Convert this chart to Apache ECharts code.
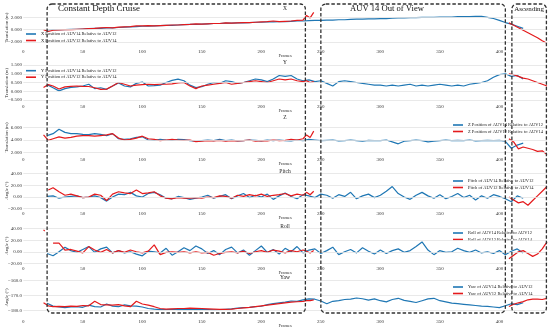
<!DOCTYPE html>
<html><head><meta charset="utf-8">
<script src="https://cdn.jsdelivr.net/npm/echarts@6/dist/echarts.min.js"></script>
<style>html,body{margin:0;padding:0;background:#fff}#c{width:550px;height:332px}</style>
</head><body><div id="c"></div>
<script>
// ---- sampling of frames ----
function rng(a, b, s){ const o=[]; for(let f=a; f<=b; f+=s) o.push(f); return o; }
const blueFrames = rng(20, 420, 5);                       // 81 frames
const redFramesA = [17,18,21].concat(rng(25,235,5), [238,241,244]); // 49 frames
const redFramesB = rng(408, 440, 4);                      // 9 frames

// ---- X ----
const blueX = [
 -0.1,0.0,-0.05,0.0,0.05,0.05,0.1,0.15,0.2,0.2,
 0.3,0.3,0.35,0.4,0.45,0.5,0.55,0.55,0.6,0.65,
 0.7,0.7,0.75,0.8,0.85,0.85,0.9,0.95,1.0,1.0,
 1.05,1.05,1.1,1.1,1.15,1.2,1.2,1.25,1.25,1.3,
 1.3,1.35,1.4,1.4,1.45,1.5,1.5,1.55,1.55,1.6,
 1.6,1.65,1.7,1.7,1.75,1.75,1.8,1.8,1.85,1.9,
 1.9,1.95,1.95,2.0,2.0,2.0,2.05,2.05,2.05,2.1,
 2.1,2.1,2.15,2.15,2.0,1.8,1.5,1.15,0.9,0.55,
 0.2];
const redXA = [0.0,-0.1,-0.3,
 -0.1,-0.05,0.0,0.0,0.05,0.1,0.15,0.2,0.3,0.35,
 0.3,0.4,0.45,0.5,0.6,0.6,0.65,0.6,0.65,0.7,
 0.75,0.75,0.8,0.85,0.95,0.9,0.95,1.0,1.0,1.1,
 1.05,1.1,1.15,1.15,1.2,1.25,1.3,1.4,1.3,1.35,
 1.4,1.5,1.55,
 2.3,1.9,2.8];
const redXB = [1.1,0.7,0.3,-0.1,-0.5,-0.9,-1.3,-1.8,-2.2];

// ---- Y ----
const blueY = [
 0.38,0.2,0.02,0.15,0.22,0.25,0.3,0.4,0.15,0.2,
 0.11,0.3,0.48,0.3,0.25,0.45,0.53,0.3,0.32,0.35,
 0.5,0.62,0.69,0.6,0.35,0.21,0.26,0.4,0.5,0.45,
 0.6,0.55,0.45,0.5,0.6,0.7,0.65,0.55,0.7,0.9,
 0.85,0.9,0.7,0.6,0.65,0.55,0.6,0.45,0.3,0.55,
 0.6,0.55,0.5,0.45,0.4,0.35,0.35,0.3,0.35,0.3,
 0.35,0.4,0.3,0.35,0.3,0.35,0.4,0.35,0.3,0.35,
 0.3,0.4,0.45,0.5,0.6,0.8,0.95,1.0,0.85,0.9,
 0.7];
const redYA = [0.21,0.3,0.38,
 0.3,0.13,0.25,0.28,0.3,0.28,0.27,0.2,0.11,0.12,
 0.3,0.5,0.4,0.3,0.35,0.38,0.4,0.38,0.4,0.4,
 0.42,0.48,0.5,0.3,0.15,0.3,0.35,0.4,0.45,0.5,
 0.4,0.45,0.5,0.55,0.6,0.55,0.5,0.6,0.7,0.65,
 0.7,0.6,0.55,
 0.6,0.5,0.55];
const redYB = [1.0,0.95,0.85,0.75,0.7,0.6,0.5,0.4,0.3];

// ---- Z ----
const blueZ = [
 4.7,5.0,5.7,5.2,5.0,5.0,4.9,4.85,5.0,4.9,
 4.7,5.0,4.2,4.1,4.2,4.4,4.5,4.0,3.95,4.1,
 4.0,3.95,4.1,4.05,3.9,3.8,3.9,4.0,3.9,4.1,
 3.9,4.0,3.85,3.9,4.0,3.95,3.85,4.0,3.9,4.0,
 3.9,3.85,4.0,3.9,4.1,4.0,3.9,3.95,4.0,3.85,
 3.9,4.0,3.9,3.8,3.95,3.9,3.9,4.0,3.7,3.4,
 3.8,3.9,4.0,3.9,3.7,3.8,3.9,4.0,3.9,3.95,
 3.9,4.0,3.85,3.9,3.95,3.9,3.95,3.8,2.7,3.2,
 3.5];
const redZA = [4.8,4.6,3.95,
 4.2,4.5,4.3,4.4,4.6,4.7,4.7,4.6,4.7,4.8,
 5.0,4.3,4.0,4.1,4.3,4.6,4.2,4.1,3.9,4.0,
 4.1,4.0,3.95,4.0,3.75,3.8,3.9,3.85,3.95,3.8,
 3.9,3.85,3.9,4.0,3.8,3.9,3.85,4.0,3.9,3.95,
 4.1,4.0,4.2,
 4.8,4.4,5.4];
const redZB = [4.2,3.7,2.6,2.9,2.7,2.5,2.2,2.3,1.7];

// ---- Pitch ----
const bluePitch = [
 1,2,-2,0,1,2,-1,0,2,-1,
 -7,0,5,4,8,2,0,6,8,4,
 -2,-3,1,-1,-4,-2,0,3,-2,1,
 4,-3,2,6,-1,3,0,5,-4,2,
 7,1,-3,4,2,-1,5,3,-2,4,
 1,8,-3,2,5,-1,3,10,18,6,
 0,-4,3,8,2,-2,4,-3,1,6,
 -1,3,-5,2,-2,4,1,-3,-8,2,
 -2];
const redPitchA = [null,null,12,
 16,9,3,5,2,-1,0,5,3,-6,
 5,9,7,6,12,6,7,9,2,-2,
 -3,-1,-2,-2,-1,-2,0,-1,2,1,
 -2,3,1,4,2,5,1,3,4,6,
 2,5,3,
 8,4,10];
const redPitchB = [0,-5,-10,-8,-14,-6,2,10,18];

// ---- Roll ----
const blueRoll = [
 -3,-7,0,8,2,-1,4,9,-1,5,
 8,-2,2,-2,0,-4,-7,1,0,-2,
 6,-6,0,7,2,10,5,-3,2,-5,
 4,8,-2,3,-6,2,10,-1,4,-4,
 6,0,9,-2,3,5,-3,2,8,-5,
 0,4,-2,7,1,-4,3,-3,2,5,
 -1,2,9,17,3,-5,2,-1,0,6,
 2,-1,3,-2,0,-3,2,-5,1,5,
 -2];
const redRollA = [38,36,null,
 15,15,3,4,1,-2,9,3,-1,4,
 -2,2,-1,3,0,-2,1,12,-5,-1,
 0,-1,0,-2,0,-2,-1,-6,-3,-1,
 0,-2,1,-3,0,2,-1,3,1,-2,
 2,0,3,
 1,-2,2];
const redRollB = [-12,-6,0,2,-3,-8,-4,5,17];

// ---- Yaw ----
const blueYaw = [
 -175.3,-177.2,-177.8,-178.2,-177.8,-177.6,-178.0,-176.6,-177.5,-177.8,
 -175.8,-177.2,-177.6,-176.4,-177.0,-177.2,-177.8,-178.8,-179.2,-179.5,
 -179.6,-179.3,-179.5,-179.6,-179.5,-179.4,-179.5,-179.6,-179.7,-179.6,
 -179.3,-179.0,-178.6,-178.2,-178.0,-177.6,-177.3,-176.2,-175.6,-175.0,
 -174.5,-173.8,-174.0,-173.0,-172.4,-172.6,-173.8,-175.6,-174.0,-173.6,
 -172.8,-172.6,-171.8,-172.3,-173.2,-172.4,-173.6,-174.4,-172.8,-172.0,
 -173.4,-174.0,-174.8,-173.6,-172.4,-172.0,-173.6,-174.4,-175.2,-175.6,
 -176.0,-176.4,-176.8,-177.2,-177.4,-177.8,-178.2,-177.0,-175.6,-176.2,
 -175.0];
const redYawA = [-175.0,-175.5,-177.0,
 -177.6,-177.4,-177.6,-177.2,-177.4,-176.8,-177.0,-174.0,-176.2,-176.4,
 -176.6,-176.2,-177.0,-177.6,-174.0,-175.8,-176.6,-177.6,-178.8,-179.2,
 -179.0,-178.8,-178.8,-178.6,-178.7,-178.8,-179.0,-179.2,-179.4,-179.4,
 -179.2,-178.8,-178.4,-178.0,-177.5,-177.0,-176.6,-176.0,-175.5,-175.0,
 -174.6,-174.3,-174.0,
 -173.6,-173.5,-173.0];
const redYawB = [-177.5,-176.0,-175.0,-174.2,-173.0,-172.6,-172.6,-172.8,-172.0];

const BLUE = '#1f77b4', RED = '#e41a1c', FONT = 'Liberation Serif';
const GL = 23.3, GR = 3;

const panels = [
 {title:'X', titleY:8.3, yName:'Translation (m)', blue:blueX, redA:redXA, redB:redXB,
  cal:[2,17.3,-2,42], top:8, bottom:47, ticks:[-2,0,2], dec:3,
  bn:'X Position of AUV14 Relative to AUV12', rn:'X Position of AUV12 Relative to AUV14', lx:24, ly:30.5},
 {title:'Y', titleY:62.5, yName:'Translation (m)', blue:blueY, redA:redYA, redB:redYB,
  cal:[1.5,65,-0.5,100], top:63, bottom:102.5, ticks:[-0.5,0,0.5,1,1.5], dec:3,
  bn:'Y Position of AUV14 Relative to AUV12', rn:'Y Position of AUV12 Relative to AUV14', lx:24, ly:67.2},
 {title:'Z', titleY:117.5, yName:'Translation (m)', blue:blueZ, redA:redZA, redB:redZB,
  cal:[6,127.3,2,152.7], top:119, bottom:155.5, ticks:[2,4,6], dec:3,
  bn:'Z Position of AUV14 Relative to AUV12', rn:'Z Position of AUV12 Relative to AUV14', lx:451, ly:121.5},
 {title:'Pitch', titleY:172, yName:'Angle (°)', blue:bluePitch, redA:redPitchA, redB:redPitchB,
  cal:[40,173.7,-20,208.7], top:172, bottom:209.5, ticks:[-20,0,20,40], dec:2,
  bn:'Pitch of AUV14 Relative to AUV12', rn:'Pitch of AUV12 Relative to AUV14', lx:451, ly:177.5},
 {title:'Roll', titleY:226.5, yName:'Angle (°)', blue:blueRoll, redA:redRollA, redB:redRollB,
  cal:[40,228.7,-20,263.3], top:227, bottom:264.5, ticks:[-20,0,20,40], dec:2,
  bn:'Roll of AUV14 Relative to AUV12', rn:'Roll of AUV12 Relative to AUV14', lx:451, ly:229.5},
 {title:'Yaw', titleY:277.7, yName:'Angle (°)', blue:blueYaw, redA:redYawA, redB:redYawB,
  cal:[-160,280.3,-180,310.3], top:278, bottom:317, ticks:[-180,-170,-160], dec:1,
  bn:'Yaw of AUV14 Relative to AUV12', rn:'Yaw of AUV12 Relative to AUV14', lx:451, ly:283.5}
];

function pairs(fr, vals){ return fr.map((f,i)=>[f, vals[i]==null ? '-' : vals[i]]); }
function fmt(v, d){ return v.toFixed(d).replace('-', '\u2212'); }

const grids=[], xAxes=[], yAxes=[], series=[], legends=[];
panels.forEach((p,i)=>{
  const [v1,p1,v2,p2] = p.cal;
  const k = (v1 - v2) / (p2 - p1);
  const ymax = v1 + (p1 - p.top) * k;
  const ymin = v2 - (p.bottom - p2) * k;
  grids.push({left:GL, right:GR, top:p.top, height:p.bottom - p.top,
    containLabel:false, outerBoundsMode:'none'});
  xAxes.push({gridIndex:i, type:'value', min:0, max:440, interval:50,
    axisLine:{show:false}, axisTick:{show:false}, splitLine:{show:false},
    axisLabel:{fontSize:5, fontFamily:FONT, color:'#333', margin:2, showMaxLabel:false},
    name:'Frames', nameLocation:'middle', nameGap:6, nameMoveOverlap:false,
    nameTextStyle:{fontSize:4.6, fontFamily:FONT, color:'#333'}});
  yAxes.push({gridIndex:i, type:'value', min:ymin, max:ymax,
    axisLine:{show:false}, axisTick:{show:false, customValues:p.ticks}, splitLine:{show:false},
    axisLabel:{customValues:p.ticks, fontSize:5, fontFamily:FONT, color:'#333', margin:1.3,
      formatter:(v)=>fmt(v,p.dec)},
    name:p.yName, nameLocation:'middle', nameGap:14, nameMoveOverlap:false,
    nameTextStyle:{fontSize:4.8, fontFamily:FONT, color:'#333'}});
  series.push({type:'line', xAxisIndex:i, yAxisIndex:i, data:[], silent:true, z:1,
    markLine:{silent:true, symbol:'none', animation:false, label:{show:false},
      lineStyle:{color:'#e3e3e3', width:0.8, type:'solid'},
      data:p.ticks.map(t=>({yAxis:t}))}});
  series.push({type:'line', name:p.bn, xAxisIndex:i, yAxisIndex:i,
    data:pairs(blueFrames, p.blue), showSymbol:false, z:3,
    lineStyle:{color:BLUE, width:1.2}, itemStyle:{color:BLUE}});
  series.push({type:'line', name:p.rn, xAxisIndex:i, yAxisIndex:i,
    data:pairs(redFramesA, p.redA).concat([[300,'-']], pairs(redFramesB, p.redB)),
    showSymbol:false, z:4, connectNulls:false,
    lineStyle:{color:RED, width:1.2}, itemStyle:{color:RED}});
  legends.push({data:[p.bn, p.rn], orient:'vertical', left:p.lx, top:p.ly,
    icon:'rect', itemWidth:10, itemHeight:1.6, itemGap:1.5, padding:[1,2,1,2],
    backgroundColor:'rgba(255,255,255,0.85)', selectedMode:false,
    textStyle:{fontSize:4.5, lineHeight:5, fontFamily:FONT, color:'#222'}});
});

const chart = echarts.init(document.getElementById('c'), null, {renderer:'canvas', width:550, height:332});
chart.setOption({animation:false, backgroundColor:'#fff',
  grid:grids, xAxis:xAxes, yAxis:yAxes, series:series, legend:legends});

// annotations: subplot titles and dashed phase boxes
const px = f => chart.convertToPixel({xAxisIndex:0}, f);
const gfx = [];
panels.forEach(p=>{
  gfx.push({type:'text', x:285, y:p.titleY, silent:true,
    style:{text:p.title, font:'5.5px "Liberation Serif"', fill:'#222', textAlign:'center', textVerticalAlign:'middle'}});
});
const boxes = [
  {f0:20, f1:237, label:'Constant Depth Cruise', lx:58, align:'left', fs:9},
  {f0:250, f1:405, label:'AUV 14 Out of View', lx:350, align:'left', fs:8.6},
  {f0:410.5, f1:439.5, label:'Ascending', lx:null, align:'center', fs:7}
];
boxes.forEach(b=>{
  const x0 = px(b.f0), x1 = px(b.f1);
  gfx.push({type:'rect', silent:true, z:100,
    shape:{x:x0, y:4, width:x1 - x0, height:309, r:5},
    style:{fill:'none', stroke:'#333', lineWidth:1.3, lineDash:[3.5,2]}});
  gfx.push({type:'text', silent:true, z:101,
    x: b.lx == null ? (x0 + x1)/2 : b.lx, y:9,
    style:{text:b.label, font:b.fs+'px "Liberation Serif"', fill:'#111', textAlign:b.align, textVerticalAlign:'middle'}});
});
chart.setOption({graphic:gfx});
</script>
</body></html>
